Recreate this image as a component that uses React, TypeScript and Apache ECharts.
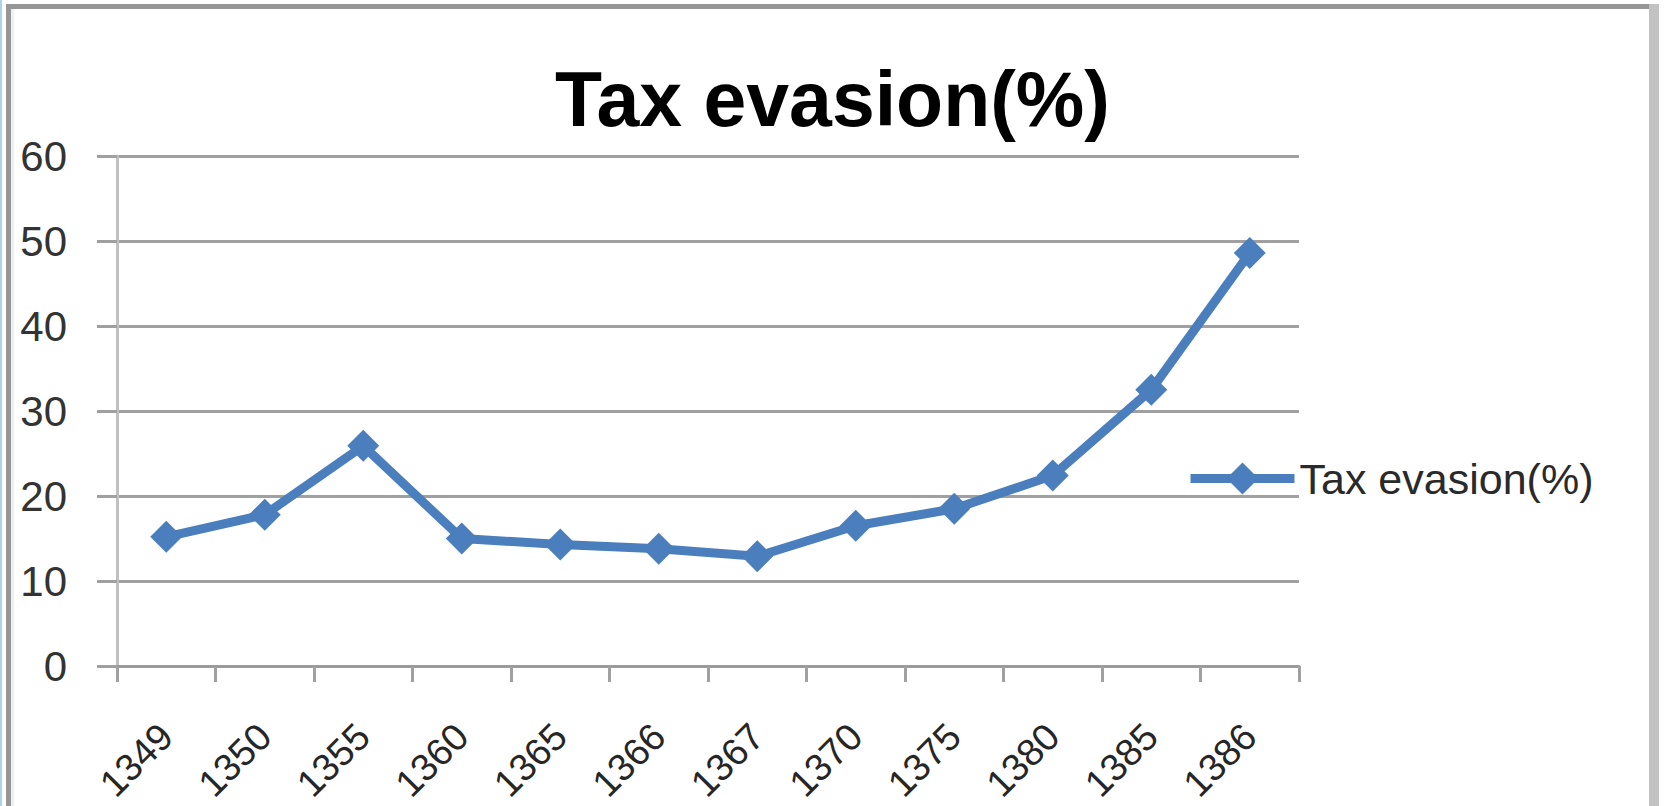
import React, { useEffect, useRef } from "react";
import * as echarts from "echarts";

const categories = ["1349", "1350", "1355", "1360", "1365", "1366", "1367", "1370", "1375", "1380", "1385", "1386"];
const taxEvasion = [15.2, 17.8, 25.9, 15.0, 14.3, 13.8, 12.9, 16.5, 18.5, 22.4, 32.5, 48.6];
const seriesName = "Tax evasion(%)";
const titleText = "Tax evasion(%)";

const BLUE = "#4a7ebd";
const FONT = "'Liberation Sans', Arial, sans-serif";

export default function App() {
  const ref = useRef<HTMLDivElement>(null);

  useEffect(() => {
    if (!ref.current) return;
    const chart = echarts.init(ref.current, undefined, { renderer: "svg" });
    chart.setOption({
      animation: false,
      backgroundColor: "#ffffff",
      title: {
        text: titleText,
        left: "center",
        top: 55,
        textStyle: { fontFamily: FONT, fontSize: 77, fontWeight: "bold", color: "#000000" },
      },
      legend: {
        data: [seriesName],
        left: 1181,
        top: 452,
        itemWidth: 104,
        itemHeight: 40,
        itemGap: 5,
        lineStyle: { width: 9, color: BLUE },
        textStyle: { fontFamily: FONT, fontSize: 43, color: "#2a2a2a" },
      },
      grid: { left: 117, right: 366, top: 156, bottom: 140, containLabel: false },
      xAxis: {
        type: "category",
        data: categories,
        boundaryGap: true,
        axisLine: { lineStyle: { color: "#9a9a9a", width: 3 } },
        axisTick: { show: true, length: 16, lineStyle: { color: "#a0a0a0", width: 3 } },
        axisLabel: { rotate: 45, margin: 64, fontFamily: FONT, fontSize: 38, color: "#262626", interval: 0 },
        splitLine: { show: false },
      },
      yAxis: {
        type: "value",
        min: 0,
        max: 60,
        interval: 10,
        axisLine: { show: true, lineStyle: { color: "#c0c0c0", width: 3 } },
        axisTick: { show: true, length: 20, lineStyle: { color: "#a0a0a0", width: 3 } },
        axisLabel: { margin: 50, fontFamily: FONT, fontSize: 42, color: "#333333" },
        splitLine: { show: true, lineStyle: { color: "#a0a0a0", width: 3 } },
      },
      series: [
        {
          name: seriesName,
          type: "line",
          data: taxEvasion,
          symbol: "diamond",
          symbolSize: 32,
          showSymbol: true,
          lineStyle: { color: BLUE, width: 9 },
          itemStyle: { color: BLUE },
        },
      ],
      graphic: [
        { type: "rect", shape: { x: 0, y: 0, width: 2, height: 806 }, style: { fill: "#a8d4ee" } },
        { type: "rect", shape: { x: 6, y: 4, width: 1648, height: 5 }, style: { fill: "#969696" } },
        { type: "rect", shape: { x: 6, y: 4, width: 5, height: 802 }, style: { fill: "#969696" } },
        { type: "rect", shape: { x: 11, y: 9, width: 3, height: 797 }, style: { fill: "#f0f0f0" } },
        { type: "rect", shape: { x: 1649, y: 4, width: 10, height: 802 }, style: { fill: "#c2c2c2" } },
      ],
    });
    return () => chart.dispose();
  }, []);

  return (
    <div
      ref={ref}
      style={{ position: "absolute", left: 0, top: 0, width: 1665, height: 806 }}
    />
  );
}
